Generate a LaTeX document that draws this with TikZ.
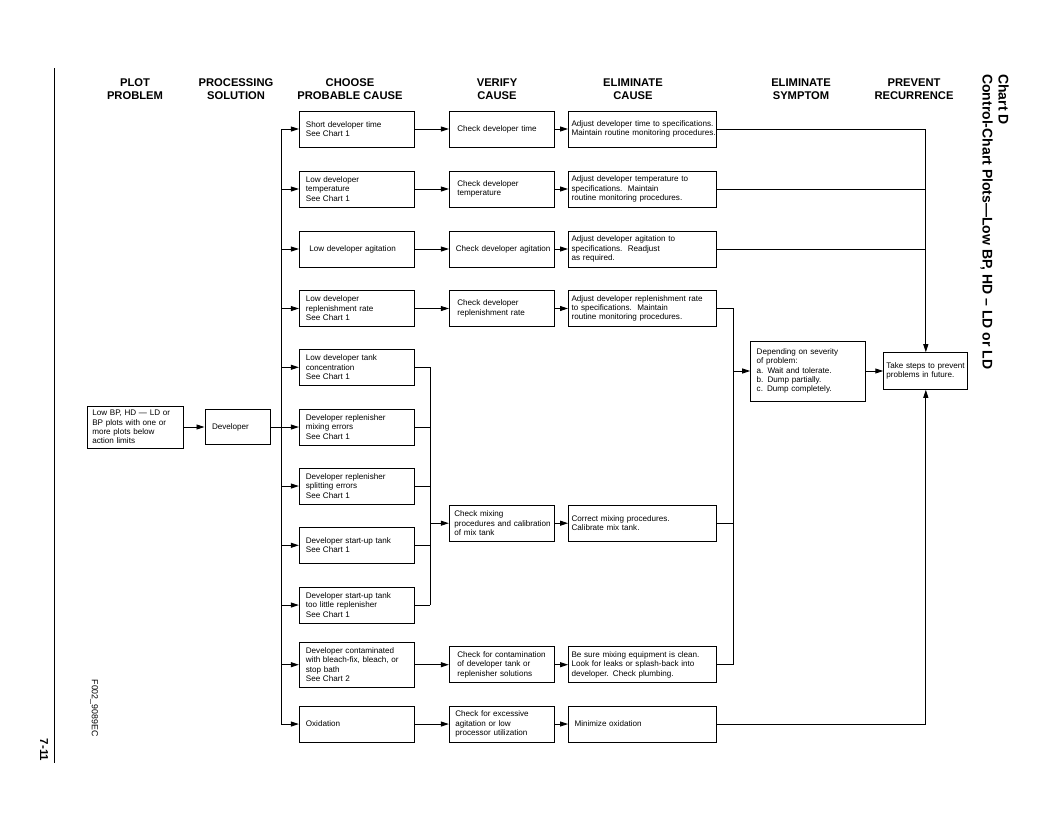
\documentclass[tikz,border=0pt]{standalone}
\usepackage{fontspec}
\setmainfont{Liberation Sans}
\usetikzlibrary{arrows.meta}
\newcommand\boxfont{\fontsize{8.1}{9.4}\selectfont\hyphenpenalty 10000 \exhyphenpenalty 10000\relax}

\begin{document}
\begin{tikzpicture}[x=1pt,y=-1pt,
  box/.style={draw,line width=1pt,align=left,minimum height=36pt,inner ysep=0pt,font=\boxfont},
  cause/.style={box,text width=101.7pt,inner xsep=6.5pt},
  verify/.style={box,text width=88.7pt,inner xsep=8pt},
  elim/.style={box,text width=141.5pt,inner xsep=3pt},
  head/.style={align=center,font=\fontsize{11.2}{12.6}\selectfont\bfseries},
  link/.style={line width=.9pt},
  flow/.style={link,-{Triangle[length=8pt,width=5pt]}}]
\useasboundingbox (0,0) rectangle (1056,816);

% page furniture
\draw[line width=.8pt] (54,68) -- (54,763);
\node[rotate=-90,font=\fontsize{11.5}{14}\selectfont\bfseries] (pagenum) at (44,750) {7-11};
\node[rotate=-90,font=\fontsize{8.8}{10}\selectfont] (figid) at (94,708) {F002\_9089EC};
\node[rotate=-90,anchor=north west,inner sep=0pt,align=left,font=\fontsize{14}{16}\selectfont\bfseries]
  (title) at (1009,74) {Chart D\\Control-Chart Plots---Low BP, HD -- LD or LD};

% column heads
\node[head] (hplot) at (135,89) {PLOT\\PROBLEM};
\node[head] (hsoln) at (236,89) {PROCESSING\\SOLUTION};
\node[head] (hcause) at (350,89) {CHOOSE\\PROBABLE CAUSE};
\node[head] (hverify) at (497,89) {VERIFY\\CAUSE};
\node[head] (helim) at (633,89) {ELIMINATE\\CAUSE};
\node[head] (hsympt) at (801,89) {ELIMINATE\\SYMPTOM};
\node[head] (hprev) at (914,89) {PREVENT\\RECURRENCE};

% plot problem and solution
\node[box,text width=86pt,inner xsep=5pt,minimum height=42pt] (plot) at (135.3,427)
  {Low BP, HD --- LD or\\BP plots with one or\\more plots below\\action limits};
\node[box,text width=51pt,inner xsep=7pt,minimum height=35pt] (dev) at (237.5,427) {Developer};

% probable causes
\node[cause] (short) at (356.7,129) {Short developer time\\See Chart 1};
\node[cause] (temp) at (356.7,189) {Low developer\\temperature\\See Chart 1};
\node[cause,inner xsep=10pt,text width=94.7pt] (agit) at (356.7,249) {Low developer agitation};
\node[cause] (rate) at (356.7,308.5) {Low developer\\replenishment rate\\See Chart 1};
\node[cause] (conc) at (356.7,367.3) {Low developer tank\\concentration\\See Chart 1};
\node[cause] (mixerr) at (356.7,427) {Developer replenisher\\mixing errors\\See Chart 1};
\node[cause] (spliterr) at (356.7,486) {Developer replenisher\\splitting errors\\See Chart 1};
\node[cause] (startup) at (356.7,545.3) {Developer start-up tank\\See Chart 1};
\node[cause] (toolittle) at (356.7,605) {Developer start-up tank\\too little replenisher\\See Chart 1};
\node[cause,minimum height=45pt] (contam) at (356.7,664.7)
  {Developer contaminated\\with bleach-fix, bleach, or\\stop bath\\See Chart 2};
\node[cause] (oxid) at (356.7,724) {Oxidation};

% verify
\node[verify] (vtime) at (501.7,129) {Check developer time};
\node[verify] (vtemp) at (501.7,189) {Check developer\\temperature};
\node[verify,inner xsep=6.5pt,text width=91.7pt] (vagit) at (501.7,249) {Check~developer~agitation};
\node[verify] (vrate) at (501.7,308.5) {Check developer\\replenishment rate};
\node[verify,inner xsep=5pt,text width=94.7pt] (vmix) at (501.7,523.2)
  {Check mixing\\procedures~and~calibration\\of mix tank};
\node[verify] (vcontam) at (501.7,664.7) {Check for contamination\\of developer tank or\\replenisher solutions};
\node[verify,inner xsep=6pt,text width=92.7pt] (voxid) at (501.7,724)
  {Check for excessive\\agitation or low\\processor utilization};

% eliminate cause
\node[elim] (etime) at (642.3,129)
  {Adjust~developer~time~to~specifications.\\Maintain~routine~monitoring~procedures.};
\node[elim] (etemp) at (642.3,189)
  {Adjust developer temperature to\\specifications.\ \ Maintain\\routine monitoring procedures.};
\node[elim] (eagit) at (642.3,249)
  {Adjust developer agitation to\\specifications.\ \ Readjust\\as required.};
\node[elim] (erate) at (642.3,308.5)
  {Adjust developer replenishment rate\\to specifications.\ \ Maintain\\routine monitoring procedures.};
\node[elim] (emix) at (642.3,523.2) {Correct mixing procedures.\\Calibrate mix tank.};
\node[elim] (econtam) at (642.3,664.7)
  {Be sure mixing equipment is clean.\\Look for leaks or splash-back into\\developer. Check plumbing.};
\node[elim,inner xsep=6pt,text width=135.5pt] (eoxid) at (642.3,724) {Minimize oxidation};

% symptom and recurrence
\node[box,text width=102.6pt,inner xsep=6pt,minimum height=60pt] (sympt) at (808,371)
  {Depending on severity\\of problem:\\a. Wait and tolerate.\\b. Dump partially.\\c. Dump completely.};
\node[box,text width=79pt,inner xsep=2.5pt,minimum height=36.6pt] (prev) at (925.8,371)
  {Take steps to prevent\\problems in future.};

% buses
\coordinate (bus) at (281,0);
\coordinate (mixbus) at (430.3,0);
\coordinate (symbus) at (733.3,0);

\draw[flow] (plot) -- (dev);
\draw[link] (dev) -- (dev -| bus);
\draw[link] (short.west -| bus) -- (oxid.west -| bus);
\foreach \c in {short,temp,agit,rate,conc,mixerr,spliterr,startup,toolittle,contam,oxid}
  \draw[flow] (\c.west -| bus) -- (\c.west);

\foreach \c/\v/\e in {short/vtime/etime,temp/vtemp/etemp,agit/vagit/eagit,
    rate/vrate/erate,contam/vcontam/econtam,oxid/voxid/eoxid} {
  \draw[flow] (\c) -- (\v);
  \draw[flow] (\v) -- (\e);
}

\foreach \c in {conc,mixerr,spliterr,startup,toolittle}
  \draw[link] (\c.east) -- (\c.east -| mixbus);
\draw[link] (conc.east -| mixbus) -- (toolittle.east -| mixbus);
\draw[flow] (mixbus |- vmix.west) -- (vmix.west);
\draw[flow] (vmix) -- (emix);

\draw[flow] (etime.east) -| (prev.north);
\draw[link] (etemp.east) -- (etemp.east -| prev.north);
\draw[link] (eagit.east) -- (eagit.east -| prev.north);
\draw[flow] (eoxid.east) -| (prev.south);

\draw[link] (erate.east) -| (symbus |- econtam.east) -- (econtam.east);
\draw[link] (emix.east) -- (emix.east -| symbus);
\draw[flow] (symbus |- sympt.west) -- (sympt.west);
\draw[flow] (sympt) -- (prev);
\end{tikzpicture}
\end{document}
